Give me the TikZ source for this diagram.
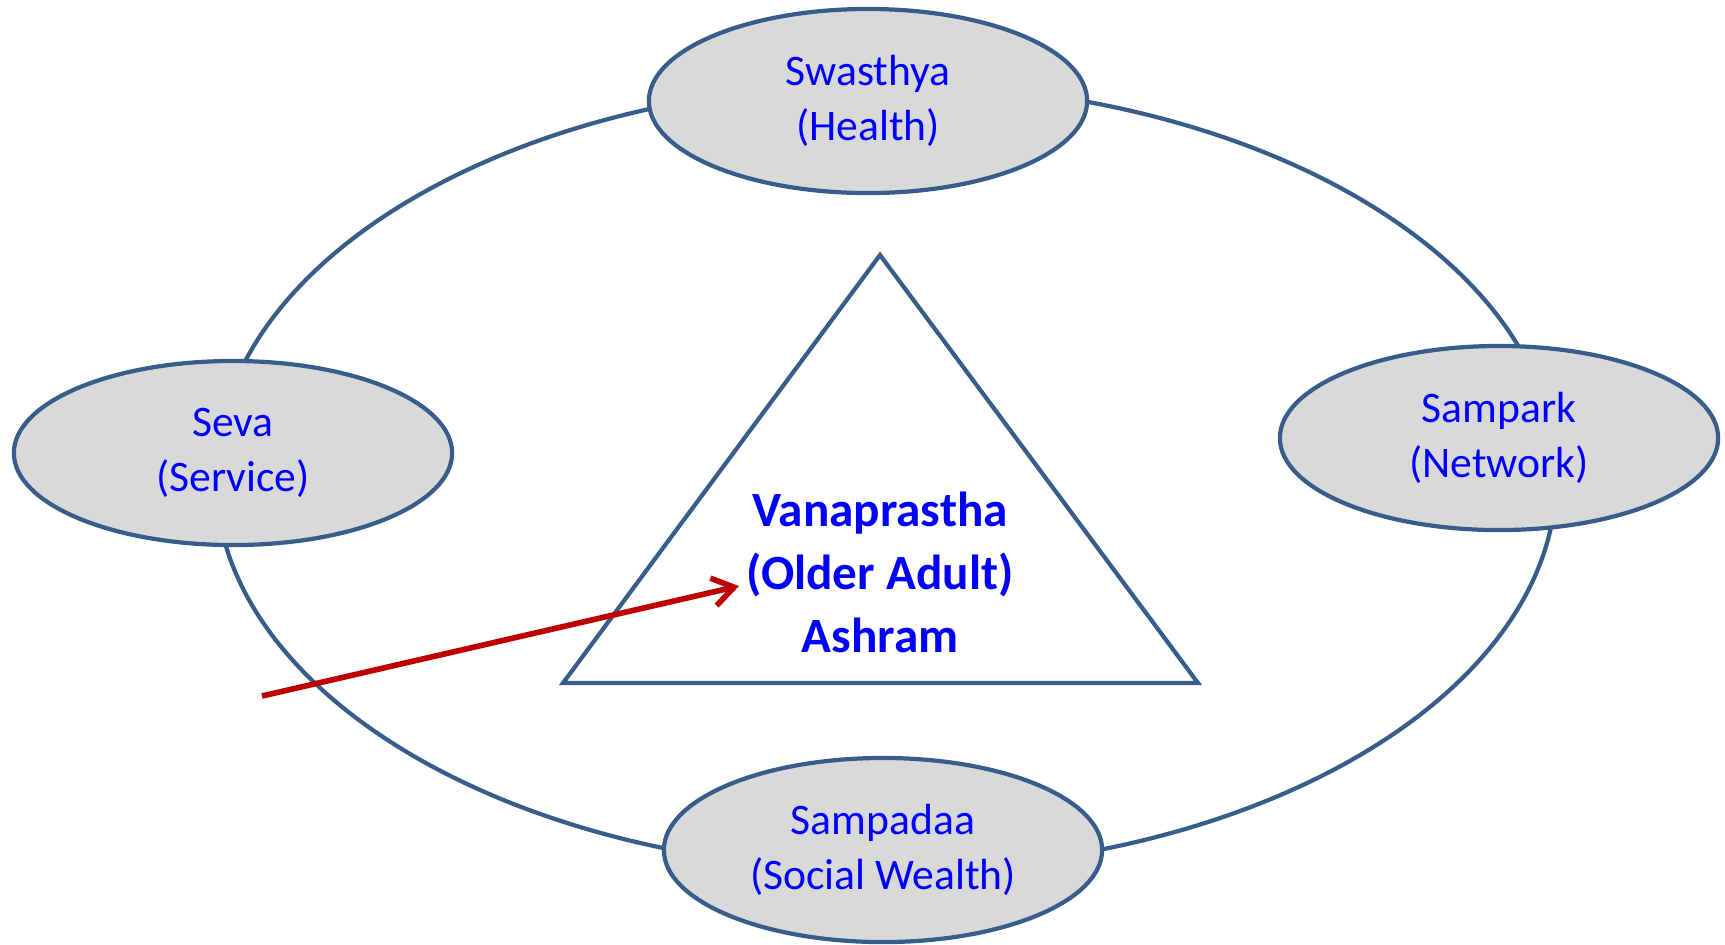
\documentclass[tikz,border=0pt]{standalone}
\usepackage{fontspec}
\setmainfont{Carlito}
\usetikzlibrary{shapes.geometric,arrows.meta}
\definecolor{rim}{HTML}{385D8A}
\definecolor{pad}{HTML}{D9D9D9}
\definecolor{darkred}{HTML}{C00000}
\tikzset{
  pillar/.style={ellipse, draw=rim, fill=pad, line width=1.2pt, inner sep=0pt,
    minimum width=4.38cm, minimum height=1.84cm, align=center, text=blue,
    font=\fontsize{12.4}{15.6}\selectfont},
  centre/.style={align=center, text=blue, font=\bfseries\fontsize{14}{17.9}\selectfont}
}
\begin{document}
\begin{tikzpicture}[x=0.01cm,y=-0.01cm]
\useasboundingbox (0,0) rectangle (1725,944);

\draw[rim, line width=1.2pt] (886,477) ellipse [x radius=6.7cm, y radius=3.93cm];
\draw[rim, line width=1.2pt, line join=miter] (880,255) -- (1198,683) -- (563,683) -- cycle;

\node[pillar] (health)  at (868,101) {Swasthya\\(Health)};
\node[pillar] (service) at (233,453) {Seva\\(Service)};
\node[pillar] (network) at (1499,438) {Sampark\\(Network)};
\node[pillar] (wealth)  at (883,850) {Sampadaa\\(Social Wealth)};
\node[centre] (ashram)  at (880,572) {Vanaprastha\\(Older Adult)\\Ashram};

\coordinate (from) at (262,696);
\coordinate (tip) at (739,586);
\draw[darkred, line width=1.6pt, -{Straight Barb[length=6pt,width=8pt]}] (from) -- (tip);
\end{tikzpicture}
\end{document}
